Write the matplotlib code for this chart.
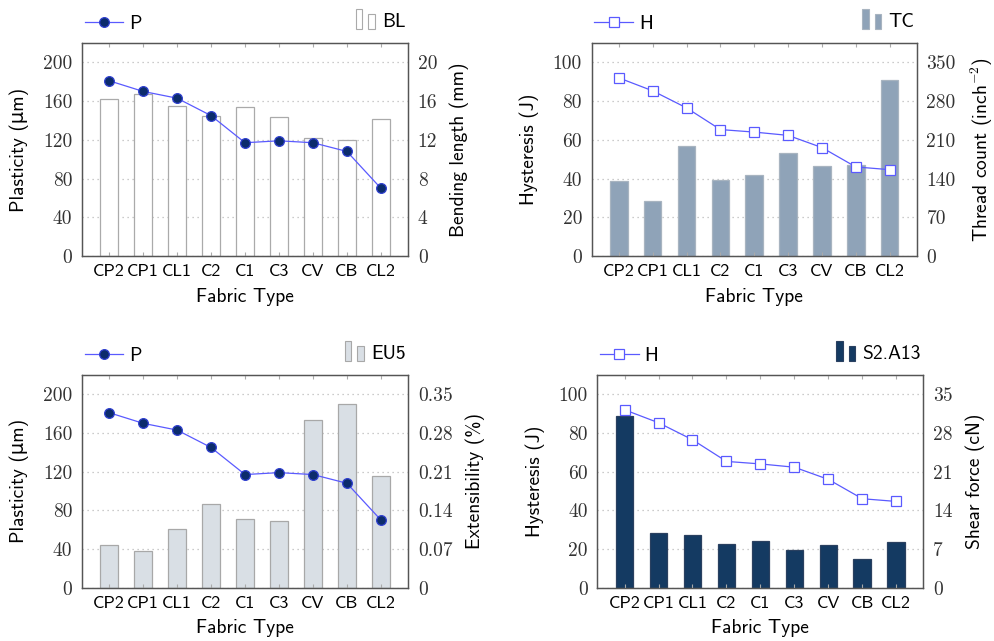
import numpy as np
import matplotlib.pyplot as plt
from matplotlib.patches import Rectangle
from matplotlib.legend_handler import HandlerBase

plt.rcParams['mathtext.fontset'] = 'cm'

fabrics = ['CP2', 'CP1', 'CL1', 'C2', 'C1', 'C3', 'CV', 'CB', 'CL2']
plasticity = [181, 170, 163, 145, 117, 119, 117, 108, 70]
hysteresis = [92, 85.3, 76.5, 65.3, 64, 62.3, 56, 46, 44.6]
bending_length = [16.2, 16.7, 15.5, 14.5, 15.4, 14.4, 12.2, 12.0, 14.2]
thread_count = [136, 100, 198, 137, 146, 187, 162, 165, 318]
extensibility = [0.078, 0.067, 0.107, 0.152, 0.125, 0.121, 0.303, 0.333, 0.203]
shear_force = [31.1, 9.9, 9.5, 7.9, 8.4, 6.8, 7.8, 5.1, 8.2]

SANS = ['cmss10', 'DejaVu Sans']
SERIF = ['cmr10', 'DejaVu Serif']
LINE_C = '#5a5aff'
SPINE_C = '#555555'


class TwoBars(HandlerBase):
    # pgfplots-style ybar legend: two small bars side by side
    def create_artists(self, legend, orig_handle, xdescent, ydescent,
                       width, height, fontsize, trans):
        fc = orig_handle.get_facecolor()
        ec = orig_handle.get_edgecolor()
        w = width * 0.28
        r1 = Rectangle((-xdescent + width * 0.08, -ydescent - 0.15 * height), w, height * 1.45,
                       facecolor=fc, edgecolor=ec, lw=0.8, transform=trans)
        r2 = Rectangle((-xdescent + width * 0.62, -ydescent - 0.15 * height), w, height * 1.1,
                       facecolor=fc, edgecolor=ec, lw=0.8, transform=trans)
        return [r1, r2]


def panel(fig, rect, line_vals, line_name, marker_face, left_label, left_ticks, left_max,
          bar_vals, bar_name, bar_fc, bar_ec, right_label, right_ticks, right_max):
    x = np.arange(len(fabrics))
    ax = fig.add_axes(rect)
    ax2 = ax.twinx()
    # line axis above the bar axis
    ax.set_zorder(ax2.get_zorder() + 1)
    ax.patch.set_visible(False)

    bars = ax2.bar(x, bar_vals, width=0.52, color=bar_fc, edgecolor=bar_ec, linewidth=0.9, zorder=2)
    ax2.set_ylim(0, right_max)
    ax2.set_yticks(right_ticks)
    ax2.set_yticklabels([('%g' % t) for t in right_ticks], family=SERIF, fontsize=14, color='#333333')
    ax2.grid(axis='y', linestyle=(0, (1, 3)), color='#bbbbbb', linewidth=0.9, zorder=0)
    ax2.set_axisbelow(True)
    ax2.set_ylabel(right_label, family=SANS, fontsize=14, labelpad=9)

    filled = marker_face != 'white'
    ln, = ax.plot(x, line_vals, color=LINE_C, lw=0.9, marker='o' if filled else 's',
                  markersize=7 if filled else 7.5,
                  markerfacecolor=marker_face, markeredgecolor='#3040d0' if filled else LINE_C,
                  markeredgewidth=0.9, zorder=5)
    ax.set_ylim(0, left_max)
    ax.set_yticks(left_ticks)
    ax.set_yticklabels([str(t) for t in left_ticks], family=SERIF, fontsize=14, color='#333333')
    ax.set_xlim(-0.8, len(fabrics) - 0.2)
    ax.set_xticks(x)
    ax.set_xticklabels(fabrics, family=SANS, fontsize=13)
    ax.set_xlabel('Fabric Type', family=SANS, fontsize=14, labelpad=6)
    ax.set_ylabel(left_label, family=SANS, fontsize=14, labelpad=10)

    for a in (ax, ax2):
        for s in a.spines.values():
            s.set_color(SPINE_C)
            s.set_linewidth(0.9)
        a.tick_params(axis='y', length=0, pad=7)
    ax.tick_params(axis='x', direction='in', length=3, color='#aaaaaa', top=True, pad=6)

    ax.legend([ln], [line_name], loc='lower left', bbox_to_anchor=(-0.01, 1.02), frameon=False,
              prop={'family': SANS, 'size': 14}, handlelength=2.0, handletextpad=0.3,
              borderaxespad=0, borderpad=0.3)
    ax2.legend([bars[0]], [bar_name], loc='lower right', bbox_to_anchor=(1.01, 1.03), frameon=False,
               prop={'family': SANS, 'size': 14}, handlelength=1.2, handletextpad=0.25,
               handler_map={type(bars[0]): TwoBars()}, borderaxespad=0, borderpad=0.3)
    return ax, ax2


fig = plt.figure(figsize=(9.94, 6.41), dpi=100)

panel(fig, [0.0825, 0.6006, 0.328, 0.3323], plasticity, 'P', '#0c2c6c',
      'Plasticity (μm)', [0, 40, 80, 120, 160, 200], 220,
      bending_length, 'BL', 'white', '#aaaaaa',
      'Bending length (mm)', [0, 4, 8, 12, 16, 20], 22)

panel(fig, [0.5953, 0.6006, 0.327, 0.3323], hysteresis, 'H', 'white',
      'Hysteresis (J)', [0, 20, 40, 60, 80, 100], 110,
      thread_count, 'TC', '#8fa3b8', '#a8b4c0',
      'Thread count (inch$^{-2}$)', [0, 70, 140, 210, 280, 350], 385)

panel(fig, [0.0825, 0.0832, 0.328, 0.3318], plasticity, 'P', '#0c2c6c',
      'Plasticity (μm)', [0, 40, 80, 120, 160, 200], 220,
      extensibility, 'EU5', '#d9dfe5', '#a8a8a8',
      'Extensibility (%)', [0, 0.07, 0.14, 0.21, 0.28, 0.35], 0.385)

panel(fig, [0.601, 0.0832, 0.328, 0.3318], hysteresis, 'H', 'white',
      'Hysteresis (J)', [0, 20, 40, 60, 80, 100], 110,
      shear_force, 'S2.A13', '#143a62', '#2a4060',
      'Shear force (cN)', [0, 7, 14, 21, 28, 35], 38.5)

fig.savefig('out.png', dpi=100)
